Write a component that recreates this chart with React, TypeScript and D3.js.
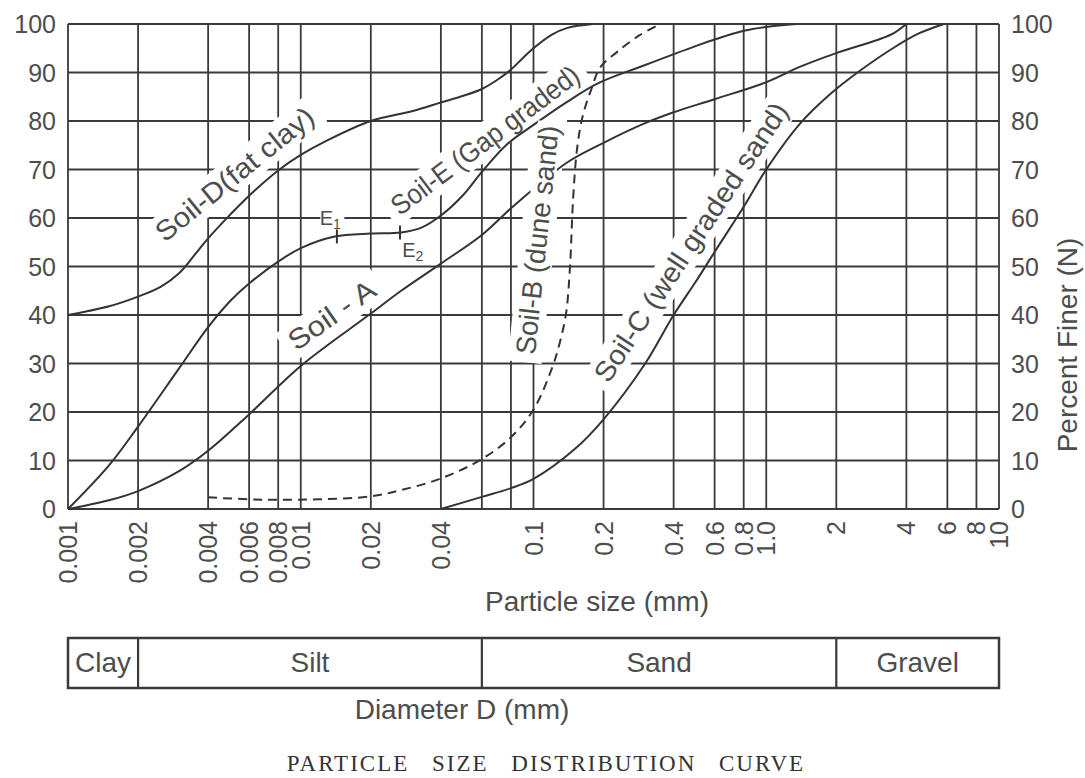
import React from "react";
import * as d3 from "d3";

const W = 1085;
const H = 778;

// ---- axis ticks ----
const xTickValues = [0.001, 0.002, 0.004, 0.006, 0.008, 0.01, 0.02, 0.04, 0.1, 0.2, 0.4, 0.6, 0.8, 1, 2, 4, 6, 8, 10];
const xTickLabels = ["0.001", "0.002", "0.004", "0.006", "0.008", "0.01", "0.02", "0.04", "0.1", "0.2", "0.4", "0.6", "0.8", "1.0", "2", "4", "6", "8", "10"];
const xExtraGrid = [0.06, 0.08];
const yTickValues = [0, 10, 20, 30, 40, 50, 60, 70, 80, 90, 100];

// ---- curves: [particle size (mm), percent finer] ----
const soilD: [number, number][] = [
  [0.001, 40], [0.0015, 41.8], [0.002, 43.8], [0.0025, 45.8], [0.003, 48.6], [0.0035, 52.4], [0.004, 55.8],
  [0.005, 60.8], [0.006, 64.6], [0.008, 69.8], [0.01, 73], [0.013, 76], [0.02, 80], [0.03, 82],
  [0.04, 83.8], [0.05, 85.2], [0.06, 86.6], [0.07, 88.5], [0.08, 90.6], [0.09, 93], [0.1, 95],
  [0.12, 97.8], [0.14, 99.2], [0.18, 100],
];
const soilE: [number, number][] = [
  [0.001, 0], [0.0015, 9], [0.002, 17], [0.003, 29], [0.004, 37.5], [0.005, 43], [0.006, 46.5],
  [0.008, 51], [0.01, 53.8], [0.014, 56.2], [0.02, 56.8], [0.027, 57], [0.033, 58], [0.04, 60.5],
  [0.05, 64.8], [0.06, 69.5], [0.077, 75.2], [0.1, 79.2], [0.14, 84], [0.19, 87.8], [0.3, 91.5],
  [0.5, 95.5], [0.6, 96.8], [0.8, 98.6], [1.0, 99.4], [1.35, 100],
];
const soilA: [number, number][] = [
  [0.001, 0], [0.0015, 1.8], [0.002, 3.7], [0.003, 7.8], [0.004, 12], [0.006, 19.5], [0.01, 29.5],
  [0.02, 40.3], [0.027, 45], [0.04, 50.6], [0.06, 56.5], [0.08, 62], [0.1, 66], [0.14, 71.5],
  [0.2, 75.5], [0.3, 79.5], [0.4, 81.8], [0.6, 84.5], [1.0, 88], [1.4, 91.2], [2, 94], [3, 96.7],
  [3.5, 98], [4, 100],
];
const soilB: [number, number][] = [
  [0.004, 2.4], [0.006, 2.0], [0.008, 1.9], [0.012, 2.0], [0.02, 2.6], [0.027, 3.9], [0.04, 6.3],
  [0.06, 10.3], [0.08, 14.8], [0.1, 20.5], [0.12, 29], [0.13, 34.5], [0.138, 40.3], [0.1435, 50],
  [0.148, 64], [0.154, 74.4], [0.163, 81.2], [0.178, 86.8], [0.193, 91], [0.228, 94.2],
  [0.286, 97.7], [0.35, 100],
];
const soilC: [number, number][] = [
  [0.04, 0], [0.06, 2.5], [0.08, 4.3], [0.1, 6.2], [0.15, 12.3], [0.2, 18.5], [0.3, 29.8],
  [0.4, 40], [0.5, 47], [0.6, 53], [0.8, 62.3], [1.0, 70], [1.4, 79.5], [1.9, 85.7],
  [2.5, 90.2], [3.5, 95], [4.5, 98], [5.8, 100],
];

const series = [
  { name: "D", data: soilD, dashed: false },
  { name: "E", data: soilE, dashed: false },
  { name: "A", data: soilA, dashed: false },
  { name: "B", data: soilB, dashed: true },
  { name: "C", data: soilC, dashed: false },
];

// ---- annotations (positions in data units) ----
const curveLabels = [
  { text: "Soil-D(fat clay)", d: 0.0052, p: 69, angle: -39, len: 195 },
  { text: "Soil-E (Gap graded)", d: 0.062, p: 76, angle: -37, len: 228 },
  { text: "Soil - A", d: 0.0136, p: 40, angle: -35, len: 100 },
  { text: "Soil-B (dune sand)", d: 0.104, p: 55.5, angle: -84, len: 230 },
  { text: "Soil-C (well graded sand)", d: 0.475, p: 55, angle: -56.5, len: 328 },
];
const gapMarks = [
  { name: "E", sub: "1", d: 0.0143, p: 56.2, ld: 0.0134, lp: 60 },
  { name: "E", sub: "2", d: 0.0267, p: 57, ld: 0.0303, lp: 53.3 },
];

const soilClasses = [
  { name: "Clay", from: 0.001, to: 0.002 },
  { name: "Silt", from: 0.002, to: 0.06 },
  { name: "Sand", from: 0.06, to: 2 },
  { name: "Gravel", from: 2, to: 10 },
];

const LINE = "#3a3a3a";
const TEXT = "#4d4d4d";
const FONT = "'Liberation Sans', Arial, Helvetica, sans-serif";

export default function App() {
  const x = d3.scaleLog().domain([0.001, 10]).range([68, 999]);
  const y = d3.scaleLinear().domain([0, 100]).range([509, 24]);
  const line = d3
    .line<[number, number]>()
    .x((d) => x(d[0]))
    .y((d) => y(d[1]))
    .curve(d3.curveCatmullRom.alpha(0.5));

  const labelFs = 28;
  const barTop = 638;
  const barBot = 688;

  return (
    <svg width={W} height={H} viewBox={`0 0 ${W} ${H}`} style={{ display: "block", position: "absolute", left: 0, top: 0, background: "#fff" }}>
      <rect x={0} y={0} width={W} height={H} fill="#fff" />
      {/* grid */}
      <g stroke={LINE} strokeWidth={1.8}>
        {yTickValues.map((v) => (
          <line key={"h" + v} x1={x(0.001)} x2={x(10)} y1={y(v)} y2={y(v)} />
        ))}
        {[...xTickValues, ...xExtraGrid].map((v) => (
          <line key={"v" + v} x1={x(v)} x2={x(v)} y1={y(0)} y2={y(100)} />
        ))}
      </g>
      {/* label backgrounds (erase grid beneath) */}
      {curveLabels.map((l) => (
        <g key={"bg" + l.text} transform={`translate(${x(l.d)},${y(l.p)}) rotate(${l.angle})`}>
          <rect x={-l.len / 2 - 8} y={-labelFs / 2 - 3} width={l.len + 16} height={labelFs + 6} fill="#fff" />
        </g>
      ))}
      {/* curves */}
      <g fill="none" stroke="#333" strokeWidth={2}>
        {series.map((s) => (
          <path key={s.name} d={line(s.data) || ""} strokeDasharray={s.dashed ? "9 6" : undefined} />
        ))}
      </g>
      {/* erase curves passing under labels */}
      {curveLabels.map((l) => (
        <g key={"bg2" + l.text} transform={`translate(${x(l.d)},${y(l.p)}) rotate(${l.angle})`}>
          <rect x={-l.len / 2 - 4} y={-labelFs / 2 + 2} width={l.len + 8} height={labelFs - 4} fill="#fff" />
        </g>
      ))}
      {/* gap-grading marks */}
      {gapMarks.map((m) => (
        <g key={"m" + m.sub}>
          <line x1={x(m.d)} x2={x(m.d)} y1={y(m.p) - 7} y2={y(m.p) + 7} stroke="#333" strokeWidth={2} />
          <rect x={x(m.ld) - 10} y={y(m.lp) - 11} width={24} height={22} fill="#fff" />
          <text x={x(m.ld)} y={y(m.lp)} fontFamily={FONT} fontSize={20} fill={TEXT} textAnchor="middle" dominantBaseline="central">
            {m.name}
            <tspan fontSize={14} dy={6}>{m.sub}</tspan>
          </text>
        </g>
      ))}
      {/* curve labels */}
      {curveLabels.map((l) => (
        <g key={"t" + l.text} transform={`translate(${x(l.d)},${y(l.p)}) rotate(${l.angle})`}>
          <text
            x={-l.len / 2}
            y={0}
            fontFamily={FONT}
            fontSize={labelFs}
            fill={TEXT}
            dominantBaseline="central"
            textLength={l.len}
            lengthAdjust="spacingAndGlyphs"
          >
            {l.text}
          </text>
        </g>
      ))}
      {/* tick labels & axis titles */}
      <g fontFamily={FONT} fontSize={25} fill={TEXT}>
        {yTickValues.map((v) => (
          <text key={"yl" + v} x={56} y={y(v)} textAnchor="end" dominantBaseline="central">
            {v}
          </text>
        ))}
        {yTickValues.map((v) => (
          <text key={"yr" + v} x={1011} y={y(v)} textAnchor="start" dominantBaseline="central">
            {v}
          </text>
        ))}
        {xTickValues.map((v, i) => (
          <text
            key={"xl" + v}
            transform={`translate(${x(v)},${521}) rotate(-90)`}
            textAnchor="end"
            dominantBaseline="central"
          >
            {xTickLabels[i]}
          </text>
        ))}
        <text transform={`translate(1077,${345}) rotate(-90)`} textAnchor="middle" fontSize={28}>
          Percent Finer (N)
        </text>
        <text x={597} y={611} textAnchor="middle" fontSize={28}>
          Particle size (mm)
        </text>
      </g>
      {/* soil classification bar */}
      <rect x={x(0.001)} y={barTop} width={x(10) - x(0.001)} height={barBot - barTop} fill="none" stroke={LINE} strokeWidth={2.5} />
      {soilClasses.map((c, i) => (
        <g key={c.name}>
          {i > 0 && <line x1={x(c.from)} x2={x(c.from)} y1={barTop} y2={barBot} stroke={LINE} strokeWidth={2.2} />}
          <text
            x={(x(c.from) + x(c.to)) / 2}
            y={672}
            fontFamily={FONT}
            fontSize={28}
            fill={TEXT}
            textAnchor="middle"
          >
            {c.name}
          </text>
        </g>
      ))}
      <text x={462} y={719} fontFamily={FONT} fontSize={28} fill={TEXT} textAnchor="middle">
        Diameter D (mm)
      </text>
      <text
        x={546}
        y={771}
        fontFamily="'Liberation Serif', 'Times New Roman', serif"
        fontSize={23}
        fill="#333"
        textAnchor="middle"
        letterSpacing={2}
        wordSpacing={15}
      >
        PARTICLE SIZE DISTRIBUTION CURVE
      </text>
    </svg>
  );
}
